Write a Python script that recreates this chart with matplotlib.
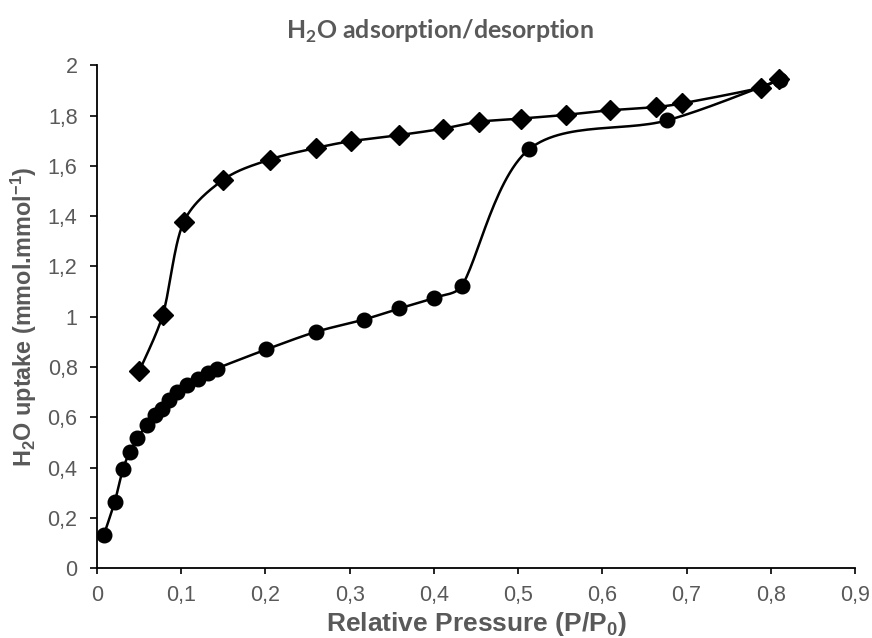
import numpy as np
import matplotlib
matplotlib.use("Agg")
import matplotlib.pyplot as plt

# adsorption branch (circles)
ads_p = [0.008, 0.021, 0.031, 0.039, 0.048, 0.059, 0.069, 0.077, 0.086, 0.095,
         0.107, 0.120, 0.132, 0.142, 0.201, 0.260, 0.317, 0.359, 0.400, 0.433,
         0.513, 0.677, 0.811]
ads_q = [0.131, 0.264, 0.396, 0.462, 0.516, 0.571, 0.608, 0.635, 0.668, 0.701,
         0.728, 0.754, 0.777, 0.794, 0.870, 0.940, 0.989, 1.033, 1.075, 1.122,
         1.666, 1.781, 1.943]

# desorption branch (diamonds), from high to low pressure
des_p = [0.810, 0.788, 0.694, 0.664, 0.609, 0.557, 0.503, 0.453, 0.411, 0.358,
         0.301, 0.260, 0.205, 0.150, 0.103, 0.078, 0.050]
des_q = [1.945, 1.911, 1.848, 1.834, 1.821, 1.803, 1.788, 1.775, 1.748, 1.722,
         1.698, 1.671, 1.625, 1.545, 1.377, 1.006, 0.783]

x_ticks = [0, 0.1, 0.2, 0.3, 0.4, 0.5, 0.6, 0.7, 0.8, 0.9]
x_labels = ["0", "0,1", "0,2", "0,3", "0,4", "0,5", "0,6", "0,7", "0,8", "0,9"]
y_ticks = [0, 0.2, 0.4, 0.6, 0.8, 1.0, 1.2, 1.4, 1.6, 1.8, 2.0]
y_labels = ["0", "0,2", "0,4", "0,6", "0,8", "1", "1,2", "1,4", "1,6", "1,8", "2"]

GREY = "#595959"
ARIAL = ["Liberation Sans", "DejaVu Sans"]

XMAX, YMAX = 0.9, 2.0
AX_W, AX_H = 758.0, 503.0  # axes size in pixels, used to smooth in screen space


def smooth(xs, ys, n=30):
    # Excel-like smoothed line: Catmull-Rom Beziers, control arms capped
    pts = np.column_stack([np.asarray(xs) / XMAX * AX_W, np.asarray(ys) / YMAX * AX_H])
    ext = np.vstack([pts[0], pts, pts[-1]])
    t = np.linspace(0, 1, n)[:, None]
    out = []
    for i in range(len(pts) - 1):
        p0, p3 = ext[i + 1], ext[i + 2]
        d = np.hypot(*(p3 - p0))
        a = (ext[i + 2] - ext[i]) / 6
        b = (ext[i + 3] - ext[i + 1]) / 6
        la, lb = np.hypot(*a), np.hypot(*b)
        if la > d / 3:
            a = a * (d / 3) / la
        if lb > d / 3:
            b = b * (d / 3) / lb
        p1, p2 = p0 + a, p3 - b
        seg = ((1 - t) ** 3) * p0 + 3 * ((1 - t) ** 2) * t * p1 + 3 * (1 - t) * t ** 2 * p2 + t ** 3 * p3
        out.append(seg if i == 0 else seg[1:])
    curve = np.vstack(out)
    return curve[:, 0] / AX_W * XMAX, curve[:, 1] / AX_H * YMAX


fig = plt.figure(figsize=(8.72, 6.38), dpi=100)
ax = fig.add_axes([0.1112, 0.1093, 0.8694, 0.7884])

sx, sy = smooth(des_p, des_q)
ax.plot(sx, sy, color="black", lw=1.8, zorder=2)
ax.plot(des_p, des_q, ls="none", marker="D", ms=10, color="black", zorder=3)

sx, sy = smooth(ads_p, ads_q)
ax.plot(sx, sy, color="black", lw=1.8, zorder=2)
ax.plot(ads_p, ads_q, ls="none", marker="o", ms=10.5, color="black", zorder=4)

ax.set_xlim(0, XMAX)
ax.set_ylim(0, YMAX)
ax.set_xticks(x_ticks, x_labels)
ax.set_yticks(y_ticks, y_labels)
for lab in ax.get_xticklabels() + ax.get_yticklabels():
    lab.set_family(ARIAL)
    lab.set_fontsize(15.5)
    lab.set_color(GREY)
ax.tick_params(axis="x", direction="out", length=4, width=1.2, color="black", pad=8)
ax.tick_params(axis="y", direction="out", length=5, width=1.2, color="black", pad=9)

for side in ("top", "right"):
    ax.spines[side].set_visible(False)
for side in ("left", "bottom"):
    ax.spines[side].set_linewidth(1.3)
    ax.spines[side].set_color("black")

ax.set_xlabel(r"Relative Pressure (P/P$_\mathregular{0}$)", family=ARIAL,
              fontsize=19, fontweight="bold", color=GREY, labelpad=3)
ax.set_ylabel(r"H$_\mathregular{2}$O uptake (mmol.mmol$^\mathregular{-1}$)", family=ARIAL,
              fontsize=16.8, fontweight="bold", color=GREY, labelpad=6)

fig.text(0.505, 0.951, r"H$_\mathregular{2}$O adsorption/desorption", ha="center", va="center",
         family=["Lato", "DejaVu Sans"], fontsize=17.9, fontweight="bold", color=GREY)

fig.savefig("out.png", dpi=100)
plt.close(fig)
